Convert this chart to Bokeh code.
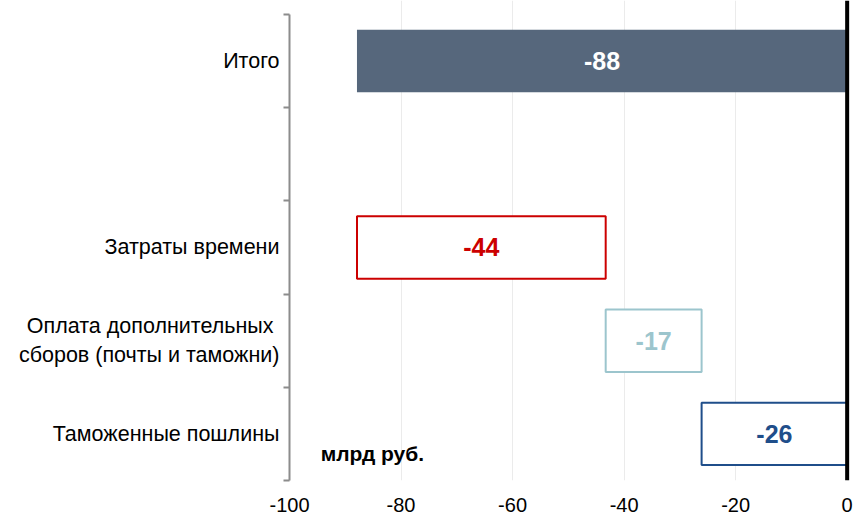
from bokeh.plotting import figure
from bokeh.models import ColumnDataSource, FixedTicker, Span, Label
from bokeh.core.properties import value
from bokeh.embed import file_html
from bokeh.resources import INLINE

# ---- data (bottom to top) ----
categories = ["Таможенные пошлины",
              "Оплата дополнительных \nсборов (почты и таможни)",
              "Затраты времени",
              "",
              "Итого"]
step_values = [-26.1, -17.2, -44.6]          # waterfall steps
step_labels = ["-26", "-17", "-44"]
total_value = -87.9
total_label = "-88"
x_ticks = [-100, -80, -60, -40, -20, 0]
x_tick_labels = ["-100", "-80", "-60", "-40", "-20", "0"]
unit_label = "млрд руб."

FONT = "Liberation Sans"
step_lines = ["#1F4E8A", "#9CC5CD", "#CC0000"]
total_fill = "#56677C"

# build waterfall geometry from the values
lefts, rights, ys = [], [], []
cum = 0.0
for i, v in enumerate(step_values):
    start = cum
    cum += v
    lefts.append(cum)
    rights.append(start)
    ys.append(i + 0.5)

steps = ColumnDataSource(dict(
    y=ys, left=lefts, right=rights,
    mid=[(l + r) / 2 for l, r in zip(lefts, rights)],
    label=step_labels, color=step_lines))
total = ColumnDataSource(dict(
    y=[categories.index("Итого") + 0.5], left=[total_value], right=[0.0],
    mid=[total_value / 2], label=[total_label]))

p = figure(width=854, height=520, output_backend="svg", toolbar_location=None,
           x_range=(-100, 0.6), y_range=(0, len(categories) + 0.15),
           min_border_left=289, min_border_right=4, min_border_top=0,
           min_border_bottom=40)
p.outline_line_color = None
p.background_fill_color = "white"

# grid
p.ygrid.visible = False
p.xgrid.ticker = FixedTicker(ticks=x_ticks)
p.xgrid.grid_line_color = "#EBEBEB"
p.xgrid.grid_line_width = 1

# bars
p.hbar(y="y", left="left", right="right", height=0.67, source=total,
       fill_color=total_fill, line_color=None)
p.hbar(y="y", left="left", right="right", height=0.67, source=steps,
       fill_color="white", line_color="color", line_width=2)

# value labels
p.text(x="mid", y="y", text="label", source=total, text_color="white",
       text_align="center", text_baseline="middle",
       text_font=value(FONT), text_font_size="25px", text_font_style="bold")
p.text(x="mid", y="y", text="label", source=steps, text_color="color",
       text_align="center", text_baseline="middle",
       text_font=value(FONT), text_font_size="25px", text_font_style="bold")

# zero line
p.add_layout(Span(location=0, dimension="height", line_color="black", line_width=4))

# x axis
xa = p.xaxis[0]
xa.ticker = FixedTicker(ticks=x_ticks)
xa.major_label_overrides = dict(zip(x_ticks, x_tick_labels))
xa.axis_line_color = None
xa.major_tick_line_color = None
xa.major_tick_out = 0
xa.major_tick_in = 0
xa.minor_tick_line_color = None
xa.minor_tick_out = 0
xa.major_label_text_font = FONT
xa.major_label_text_font_size = "20px"
xa.major_label_text_color = "black"
xa.major_label_standoff = 17

# y axis: labels at centres, ticks at boundaries
ya = p.yaxis[0]
centers = [i + 0.5 for i, c in enumerate(categories)]
ya.ticker = FixedTicker(ticks=centers, minor_ticks=list(range(len(categories) + 1)))
ya.major_label_overrides = {i + 0.5: c for i, c in enumerate(categories)}
ya.bounds = (0, len(categories))
ya.axis_line_color = "#8C8C8C"
ya.axis_line_width = 2
ya.major_tick_line_color = None
ya.major_tick_out = 0
ya.major_tick_in = 0
ya.minor_tick_out = 6
ya.minor_tick_in = 0
ya.minor_tick_line_color = "#8C8C8C"
ya.minor_tick_line_width = 2
ya.major_label_text_font = FONT
ya.major_label_text_font_size = "21.5px"
ya.major_label_text_color = "black"
ya.major_label_standoff = 4

p.add_layout(Label(x=-94.4, y=0.29, text=unit_label, text_font=FONT,
                   text_font_size="21px", text_font_style="bold",
                   text_baseline="middle", text_align="left", text_color="black"))

open("out.html", "w").write(file_html(p, INLINE))
